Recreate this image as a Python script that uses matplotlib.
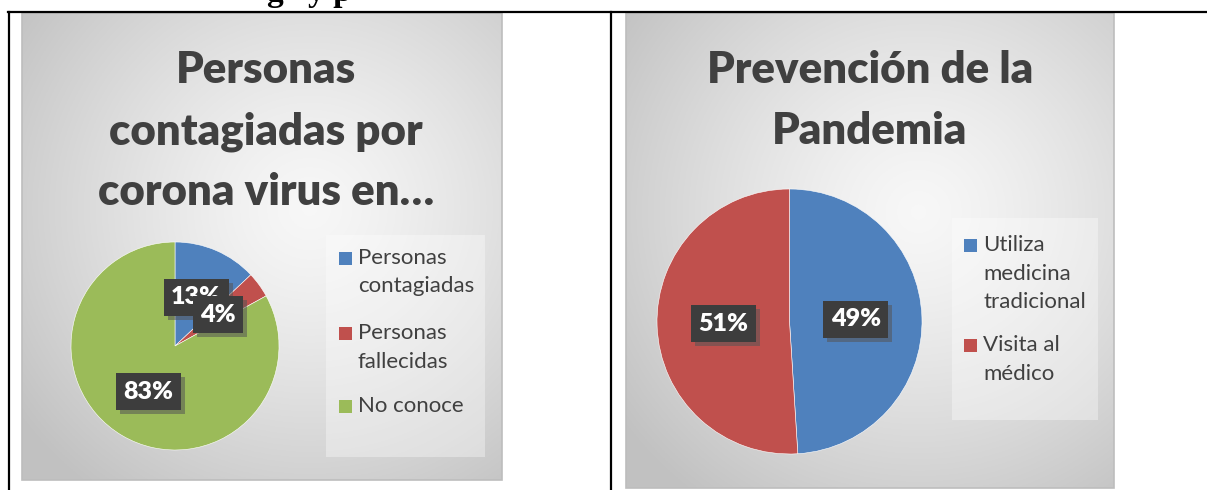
import numpy as np
import matplotlib.pyplot as plt
import matplotlib.patheffects as pe
from matplotlib.patches import Rectangle

# Datos de los dos graficos
labels_1 = ['Personas\ncontagiadas', 'Personas\nfallecidas', 'No conoce']
values_1 = [13, 4, 83]
title_1 = ['Personas', 'contagiadas por', 'corona virus en…']

labels_2 = ['Utiliza\nmedicina\ntradicional', 'Visita al\nmédico']
values_2 = [49, 51]
title_2 = ['Prevención de la', 'Pandemia']

colors = ['#4f81bd', '#c0504d', '#9bbb59']

W, H = 1207, 490
fig = plt.figure(figsize=(W / 100, H / 100), dpi=100)
fig.patch.set_facecolor('white')
FONT = 'Lato'
TXT = '#404040'


def rect(x0, y0, x1, y1):
    return [x0 / W, 1 - y1 / H, (x1 - x0) / W, (y1 - y0) / H]


def fx(x):
    return x / W


def fy(y):
    return 1 - y / H


def background(x0, y0, x1, y1):
    ax = fig.add_axes(rect(x0, y0, x1, y1))
    yy, xx = np.mgrid[0:1:300j, 0:1:300j]
    d = np.sqrt(((xx - 0.6) / 0.75) ** 2 + ((yy - 0.42) / 0.75) ** 2)
    g = 0.97 - 0.21 * np.clip(d, 0, 1) ** 1.3
    ax.imshow(np.dstack([g, g, g]), extent=[0, 1, 0, 1], aspect='auto', origin='upper')
    ax.set_xlim(0, 1)
    ax.set_ylim(0, 1)
    ax.axis('off')
    ax.add_patch(Rectangle((0, 0), 1, 1, fill=False, ec='#bdbdbd', lw=1.2,
                           transform=ax.transAxes, clip_on=False))
    return ax


def draw_pie(values, cx, cy, r, pctdist):
    ax = fig.add_axes(rect(cx - r, cy - r, cx + r, cy + r))
    wedges, texts, autotexts = ax.pie(
        values, colors=colors[:len(values)], startangle=90, counterclock=False,
        autopct='%1.0f%%', pctdistance=pctdist,
        wedgeprops=dict(edgecolor='white', linewidth=0.4),
        textprops=dict(color='white', fontsize=18, fontweight='heavy', family=FONT))
    ax.set_xlim(-1, 1)
    ax.set_ylim(-1, 1)
    ax.axis('off')
    for t in autotexts:
        t.set_bbox(dict(boxstyle='square,pad=0.3', fc='#3d3d3d', ec='none'))
        t.get_bbox_patch().set_path_effects(
            [pe.withSimplePatchShadow(offset=(3, -3), shadow_rgbFace='#555555', alpha=0.55)])
    return ax


def legend(labels, bx0, by0, bx1, by1, mx, tx, ys):
    fig.patches.append(Rectangle((fx(bx0), fy(by1)), (bx1 - bx0) / W, (by1 - by0) / H,
                                 transform=fig.transFigure, fc='white', alpha=0.35,
                                 ec='none', zorder=5))
    for i, lab in enumerate(labels):
        lines = lab.split('\n')
        y0 = ys[i]
        fig.patches.append(Rectangle((fx(mx), fy(y0 + 6.5)), 13 / W, 13 / H,
                                     transform=fig.transFigure, fc=colors[i],
                                     ec='none', zorder=6))
        for j, ln in enumerate(lines):
            fig.text(fx(tx), fy(y0 + j * 28.5), ln, ha='left', va='center',
                     fontsize=16, color=TXT, family=FONT, zorder=7)


# marco de la tabla
fig.add_artist(plt.Line2D([fx(8), 1], [fy(12), fy(12)], color='black', lw=1.6,
                          transform=fig.transFigure))
fig.add_artist(plt.Line2D([fx(9), fx(9)], [fy(12), 0], color='black', lw=1.6,
                          transform=fig.transFigure))
fig.add_artist(plt.Line2D([fx(611), fx(611)], [fy(12), 0], color='black', lw=1.6,
                          transform=fig.transFigure))

# texto cortado arriba
fig.text(fx(266), fy(1), 'g', family='Liberation Serif', fontweight='bold',
         fontsize=24, va='baseline', ha='left')
fig.text(fx(308), fy(1), 'y p', family='Liberation Serif', fontweight='bold',
         fontsize=24, va='baseline', ha='left')

# grafico 1
background(22, 13, 502, 480)
for i, ln in enumerate(title_1):
    fig.text(fx(266), fy(83 + i * 61), ln, ha='center', va='baseline',
             fontsize=31.5, fontweight='heavy', color=TXT, family=FONT)
draw_pie(values_1, 175, 346, 104, 0.51)
legend(labels_1, 326, 235, 485, 457, 339, 358, [258, 333, 406])

# grafico 2
background(626, 13, 1114, 488)
for i, ln in enumerate(title_2):
    fig.text(fx(870), fy(83 + i * 61), ln, ha='center', va='baseline',
             fontsize=31.5, fontweight='heavy', color=TXT, family=FONT)
draw_pie(values_2, 789.5, 321.5, 132.5, 0.5)
legend(labels_2, 952, 218, 1098, 420, 964, 983, [245, 345])

plt.savefig('out.png', dpi=100)
